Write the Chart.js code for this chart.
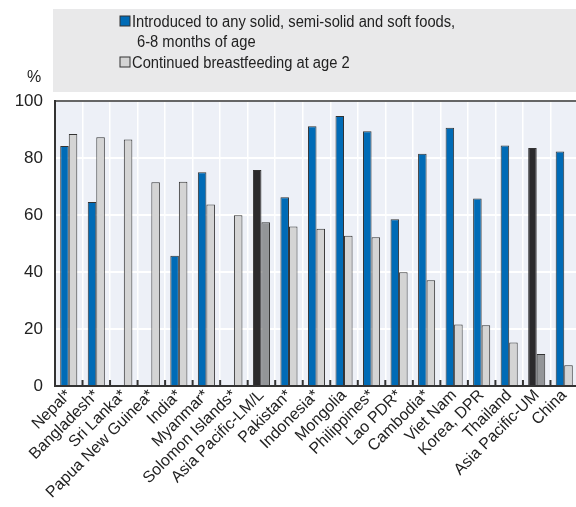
<!DOCTYPE html>
<html>
<head>
<meta charset="utf-8">
<script src="https://cdn.jsdelivr.net/npm/chart.js@4"></script>
<style>
  html, body { margin: 0; padding: 0; background: #fff; overflow: hidden; }
  #wrap { width: 580px; height: 507px; }
</style>
</head>
<body>
<div id="wrap"><canvas id="canvas" width="580" height="507"></canvas></div>
<script>
// data
const countries = ['Nepal*', 'Bangladesh*', 'Sri Lanka*', 'Papua New Guinea*', 'India*', 'Myanmar*',
    'Solomon Islands*', 'Asia Pacific-LM/L', 'Pakistan*', 'Indonesia*', 'Mongolia', 'Philippines*',
    'Lao PDR*', 'Cambodia*', 'Viet Nam', 'Korea, DPR', 'Thailand', 'Asia Pacific-UM', 'China'];
const solidFoods = [84.2, 64.6, null, null, 45.7, 75.0, null, 75.8, 66.2, 91.1, 94.7, 89.4,
    58.5, 81.5, 90.6, 65.8, 84.4, 83.5, 82.3];
const breastfeeding = [88.4, 87.3, 86.5, 71.5, 71.7, 63.7, 59.9, 57.5, 56.0, 55.2, 52.7, 52.2,
    39.9, 37.1, 21.6, 21.3, 15.3, 11.2, 7.3];
const yTicks = [0, 20, 40, 60, 80, 100];
const legendLabels = [['Introduced to any solid, semi-solid and soft foods,', '6-8 months of age'],
    ['Continued breastfeeding at age 2']];

const FONT = '"Liberation Sans", Arial, sans-serif';
const isRegion = c => c.startsWith('Asia Pacific');

// colours: regional averages are drawn dark
let blueColors = countries.map(c => isRegion(c) ? '#2b2a2c' : '#006bb6');
let greyColors = countries.map(c => isRegion(c) ? '#939598' : '#d4d4d4');

// narrow-looking text: squeeze horizontally
function narrowText(ctx, t, x, y) {
    ctx.save();
    ctx.translate(x, y);
    ctx.scale(0.92, 1);
    ctx.fillText(t, 0, 0);
    ctx.restore();
}

// background of plot, legend box, % label and top frame line
const decor = {
    id: 'decor',
    beforeDraw(chart) {
        const ctx = chart.ctx, a = chart.chartArea;
        ctx.save();
        ctx.fillStyle = '#e9e9ea';
        ctx.fillRect(53, 9, 530, 83);
        ctx.fillStyle = '#edf0f7';
        ctx.fillRect(a.left, a.top, a.right - a.left, a.bottom - a.top);
        ctx.restore();
    },
    afterDraw(chart) {
        const ctx = chart.ctx, a = chart.chartArea;
        ctx.save();
        ctx.strokeStyle = '#333';
        ctx.lineWidth = 1.5;
        ctx.beginPath();
        ctx.moveTo(a.left, a.top);
        ctx.lineTo(a.right, a.top);
        ctx.stroke();
        // little inward ticks on the bottom axis, between categories
        const xs = chart.scales.x;
        ctx.lineWidth = 2;
        for (let i = 1; i < countries.length; i++) {
            const x = xs.getPixelForValue(i - 0.5);
            ctx.beginPath();
            ctx.moveTo(x, a.bottom);
            ctx.lineTo(x, a.bottom - 6);
            ctx.stroke();
        }
        // legend
        ctx.font = '16px ' + FONT;
        ctx.textBaseline = 'alphabetic';
        const rows = [[27, 47], [68]];
        const colors = ['#006bb6', '#d4d4d4'];
        legendLabels.forEach((lines, i) => {
            const y0 = rows[i][0];
            ctx.fillStyle = colors[i];
            ctx.fillRect(120, y0 - 11, 10, 10);
            ctx.strokeStyle = '#333';
            ctx.lineWidth = 1;
            ctx.strokeRect(120, y0 - 11, 10, 10);
            ctx.fillStyle = '#222';
            lines.forEach((t, j) => {
                narrowText(ctx, t, j === 0 ? 132 : 137, rows[i][j]);
            });
        });
        ctx.font = '16px ' + FONT;
        ctx.fillText('%', 27, 82);
        ctx.restore();
    }
};

let ctx = document.getElementById('canvas').getContext('2d');

let myChart = new Chart(ctx, {
    type: 'bar',
    data: {
        labels: countries,
        datasets: [{
            label: legendLabels[0].join(' '),
            data: solidFoods,
            backgroundColor: blueColors,
            borderColor: '#333',
            borderWidth: 1
        }, {
            label: legendLabels[1][0],
            data: breastfeeding,
            backgroundColor: greyColors,
            borderColor: '#333',
            borderWidth: 1
        }]
    },
    options: {
        responsive: false,
        animation: false,
        devicePixelRatio: 1,
        layout: { padding: { top: 101, right: 2, left: 0, bottom: 0 } },
        datasets: { bar: { categoryPercentage: 0.62, barPercentage: 1 } },
        plugins: { legend: { display: false }, tooltip: { enabled: false } },
        scales: {
            x: {
                grid: { color: '#fff', lineWidth: 1.5, drawTicks: false },
                border: { color: '#333', width: 2 },
                ticks: {
                    color: '#222',
                    font: { family: FONT, size: 16 },
                    minRotation: 45, maxRotation: 45,
                    autoSkip: false,
                    padding: 0
                },
                afterFit(s) { s.height = 121; }
            },
            y: {
                min: 0, max: 100,
                afterBuildTicks(s) { s.ticks = yTicks.map(v => ({ value: v })); },
                grid: { color: '#fff', lineWidth: 2, drawTicks: false },
                border: { color: '#333', width: 2 },
                ticks: {
                    color: '#222',
                    font: { family: FONT, size: 17 },
                    padding: 12
                },
                afterFit(s) { s.width = 55; }
            }
        }
    },
    plugins: [decor]
});
</script>
</body>
</html>
